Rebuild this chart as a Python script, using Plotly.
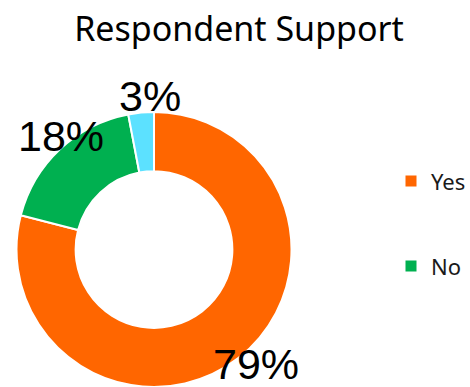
import math
import plotly.graph_objects as go

# Survey answers
labels = ["Yes", "No", "Unsure"]
values = [79, 18, 3]
colors = ["#FF6600", "#00B050", "#5CE1FF"]
legend_labels = ["Yes", "No"]
title_text = "Respondent Support"

# Canvas and layout geometry
W, H = 470, 387
M_T, M_B, M_L, M_R = 112, 0, 0, 0
PIE_DOMAIN_X = [0.0, 308 / W]
PIE_DOMAIN_Y = [0.0, 1.0]
HOLE = 0.57
LABEL_R = 1.09      # label distance, as a fraction of the outer radius
LABEL_DX = 10       # horizontal nudge of the labels, px
LABEL_DY = 4        # upward nudge of the labels, px

UI_FONT = "Noto Sans"
LABEL_FONT = "Liberation Sans, Arial"
LEGEND_SIZE = 22
LEGEND_PITCH = 85   # vertical distance between legend entries, px

fig = go.Figure()

fig.add_trace(go.Pie(
    labels=labels,
    values=values,
    hole=HOLE,
    sort=False,
    direction="clockwise",
    rotation=0,
    marker=dict(colors=colors, line=dict(color="white", width=2)),
    textinfo="none",
    hoverinfo="label+percent",
    showlegend=False,
    domain=dict(x=PIE_DOMAIN_X, y=PIE_DOMAIN_Y),
))

# Legend entries (one group each so the entries can be spaced apart)
for name in legend_labels:
    c = colors[labels.index(name)]
    fig.add_trace(go.Scatter(
        x=[None], y=[None], mode="markers", name=name, legendgroup=name,
        marker=dict(symbol="square", size=11, color=c),
        hoverinfo="skip", showlegend=True,
    ))

# Percentage labels placed around the ring at each slice's mid angle
plot_w = W - M_L - M_R
plot_h = H - M_T - M_B
cx = sum(PIE_DOMAIN_X) / 2
cy = sum(PIE_DOMAIN_Y) / 2
r_px = min(plot_w * (PIE_DOMAIN_X[1] - PIE_DOMAIN_X[0]),
           plot_h * (PIE_DOMAIN_Y[1] - PIE_DOMAIN_Y[0])) / 2
total = sum(values)
cum = 0.0
for v in values:
    mid = 2 * math.pi * (cum + v / 2) / total
    cum += v
    ux, uy = math.sin(mid), math.cos(mid)
    fig.add_annotation(
        x=cx + (LABEL_R * r_px * ux + LABEL_DX) / plot_w,
        y=cy + (LABEL_R * r_px * uy + LABEL_DY) / plot_h,
        xref="paper", yref="paper",
        text=f"{round(100 * v / total)}%",
        showarrow=False,
        xanchor="center", yanchor="middle",
        font=dict(family=LABEL_FONT, size=43, color="black"),
    )

item_h = 1.3 * LEGEND_SIZE + 3
fig.update_layout(
    width=W, height=H,
    margin=dict(l=M_L, r=M_R, t=M_T, b=M_B, autoexpand=False),
    paper_bgcolor="white",
    plot_bgcolor="white",
    title=dict(
        text=title_text,
        x=0.5085, xref="container", xanchor="center",
        y=0.955, yref="container", yanchor="top",
        font=dict(family=UI_FONT, size=34, color="black"),
    ),
    legend=dict(
        x=391 / W, xref="container", xanchor="left",
        y=1 - (181 - 5 - item_h / 2) / H, yref="container", yanchor="top",
        tracegroupgap=LEGEND_PITCH - item_h,
        font=dict(family=UI_FONT, size=LEGEND_SIZE, color="#1a1a1a"),
        bgcolor="rgba(0,0,0,0)",
    ),
    xaxis=dict(visible=False),
    yaxis=dict(visible=False),
)

fig.write_html("out.html")
